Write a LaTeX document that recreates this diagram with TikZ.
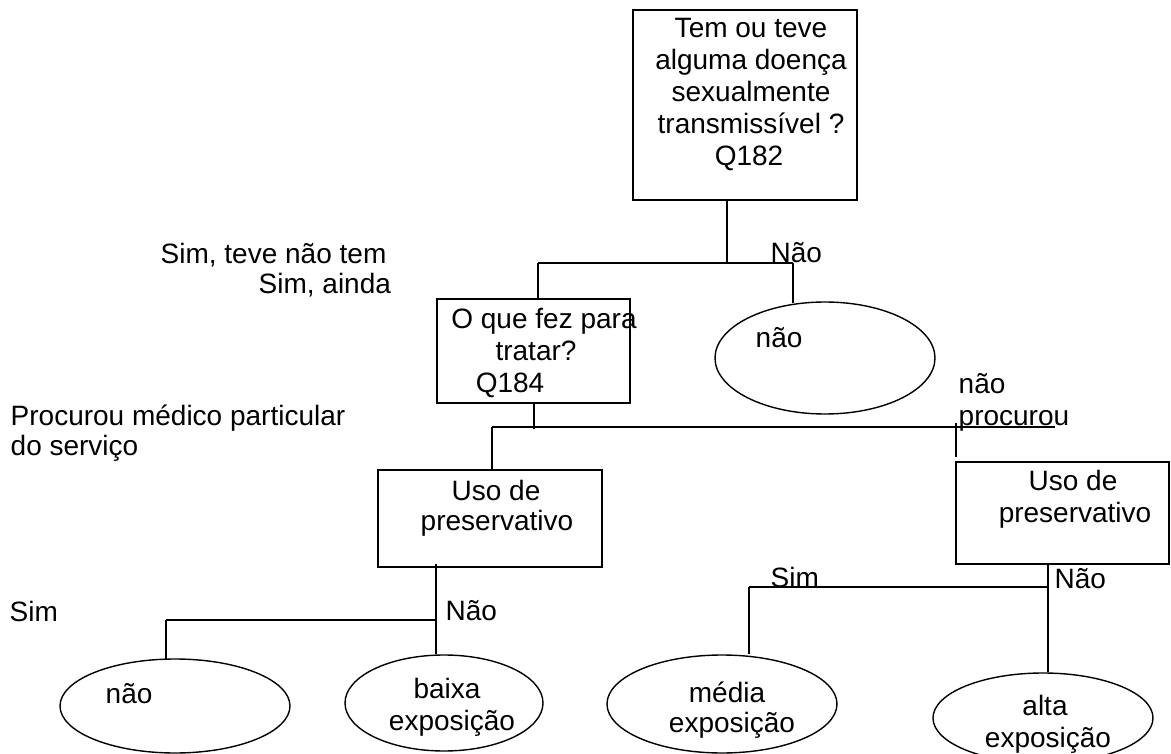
\documentclass[tikz,border=0pt]{standalone}
\usepackage{fontspec}
\setmainfont{Liberation Sans}
\usetikzlibrary{shapes.geometric}
\begin{document}
\begin{tikzpicture}[x=1pt, y=-1pt, line width=1.4pt,
  box/.style={draw, rectangle, inner sep=0pt},
  oval/.style={draw, ellipse, inner sep=0pt},
  lbl/.style={inner sep=0pt, font=\fontsize{28}{32}\selectfont},
  wire/.style={draw, line width=1.4pt}]
\useasboundingbox (0,0) rectangle (1171,754);

% ---- question boxes ----
\node[box, minimum width=224pt, minimum height=190pt] (q182) at (745,105) {};
\node[box, minimum width=193pt, minimum height=104pt] (q184) at (533.5,351) {};
\node[box, minimum width=224pt, minimum height=97pt]  (usoA) at (490,518.5) {};
\node[box, minimum width=213pt, minimum height=102pt] (usoB) at (1062.5,513) {};

% ---- outcome ovals ----
\node[oval, minimum width=220pt, minimum height=112pt] (naoA)  at (825,358) {};
\node[oval, minimum width=230pt, minimum height=94pt]  (naoB)  at (175,706) {};
\node[oval, minimum width=198pt, minimum height=96pt]  (baixa) at (444,703) {};
\node[oval, minimum width=230pt, minimum height=98pt]  (media) at (722,704) {};
\node[oval, minimum width=220pt, minimum height=90pt]  (alta)  at (1043,718) {};

% ---- texts inside boxes ----
\node[lbl, anchor=base] (q182a) at (751,38)  {Tem ou teve};
\node[lbl, anchor=base] (q182b) at (751,70)  {alguma doença};
\node[lbl, anchor=base] (q182c) at (751,102) {sexualmente};
\node[lbl, anchor=base] (q182d) at (751,134) {transmissível ?};
\node[lbl, anchor=base] (q182e) at (749,166) {Q182};

\node[lbl, anchor=base] (q184a) at (544,328) {O que fez para};
\node[lbl, anchor=base] (q184b) at (536,360) {tratar?};
\node[lbl, anchor=base] (q184c) at (510,392) {Q184};

\node[lbl, anchor=base] (usoAa) at (496,500) {Uso de};
\node[lbl, anchor=base] (usoAb) at (497,530) {preservativo};
\node[lbl, anchor=base] (usoBa) at (1073,490) {Uso de};
\node[lbl, anchor=base] (usoBb) at (1075,522) {preservativo};

% ---- texts inside ovals ----
\node[lbl, anchor=base west] (naoAt) at (755,348) {não};
\node[lbl, anchor=base west] (naoBt) at (105,703) {não};
\node[lbl, anchor=base] (baixa1) at (447,698) {baixa};
\node[lbl, anchor=base] (baixa2) at (452,730) {exposição};
\node[lbl, anchor=base] (media1) at (727,702) {média};
\node[lbl, anchor=base] (media2) at (732,732) {exposição};
\node[lbl, anchor=base] (alta1)  at (1045,715) {alta};
\node[lbl, anchor=base] (alta2)  at (1048,747) {exposição};

% ---- branch labels ----
\node[lbl, anchor=base west] (simTeve) at (160,264) {Sim, teve não tem};
\node[lbl, anchor=base west] (simAinda) at (258,294) {Sim, ainda};
\node[lbl, anchor=base west] (naoTop) at (770,263) {Não};
\node[lbl, anchor=base west] (procA) at (10,425) {Procurou médico particular};
\node[lbl, anchor=base west] (procB) at (10,455) {do serviço};
\node[lbl, anchor=base west] (naoProcA) at (958,393) {não};
\node[lbl, anchor=base west] (naoProcB) at (958,425) {procurou};
\node[lbl, anchor=base west] (simL) at (9,621) {Sim};
\node[lbl, anchor=base west] (naoL) at (445,620) {Não};
\node[lbl, anchor=base west] (simR) at (770,587) {Sim};
\node[lbl, anchor=base west] (naoR) at (1054,588) {Não};

% ---- junction points ----
\coordinate (j1) at (727,263);
\coordinate (h1l) at (538,263);
\coordinate (h1r) at (793,263);
\coordinate (j2) at (534,429);
\coordinate (h2l) at (492,427);
\coordinate (h2r) at (1055,427);
\coordinate (v2a) at (956,423);
\coordinate (v2b) at (956,457);
\coordinate (j3) at (436,620);
\coordinate (h3l) at (166,620);
\coordinate (j4) at (1048,587);
\coordinate (h4l) at (749,587);

% ---- connectors ----
\draw[wire] (q182.south -| j1) -- (j1);
\draw[wire] (h1l) -- (h1r);
\draw[wire] (h1l) -- (h1l |- q184.north);
\draw[wire] (h1r) -- ([yshift=-2pt]h1r |- naoA.north);

\draw[wire] (q184.south -| j2) -- (j2);
\draw[wire] (h2l) -- (h2r);
\draw[wire] (h2l) -- (h2l |- usoA.north);
\draw[wire] (v2a) -- (v2b);

\draw[wire] ([yshift=4pt]usoA.south -| j3) -- (j3 |- baixa.north);
\draw[wire] (h3l) -- (j3);
\draw[wire] (h3l) -- ([yshift=-1pt]h3l |- naoB.north);

\draw[wire] (usoB.south -| j4) -- (j4 |- alta.north);
\draw[wire] (h4l) -- (j4);
\draw[wire] (h4l) -- (h4l |- media.north);
\end{tikzpicture}
\end{document}
